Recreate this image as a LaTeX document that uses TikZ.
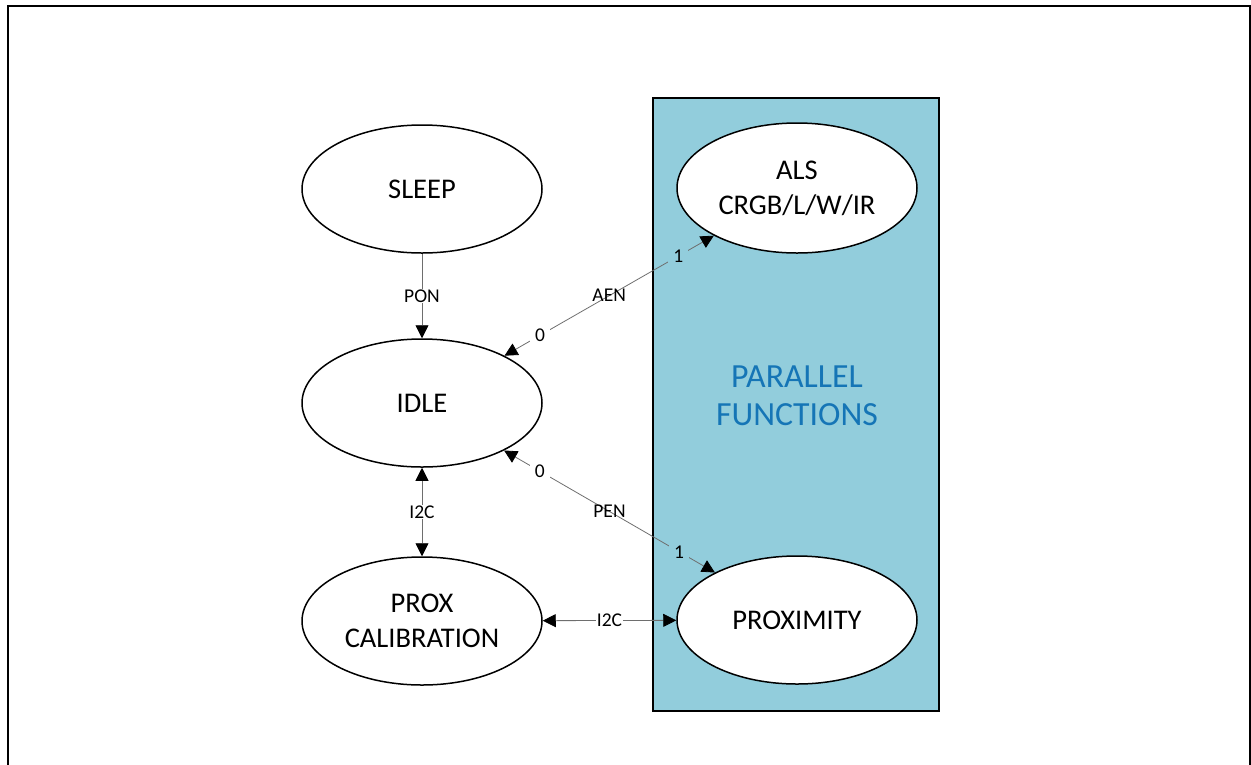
\documentclass[tikz,border=0pt]{standalone}
\usepackage{fontspec}
\setmainfont{Carlito}
\usepackage{xcolor}
\usepackage{tikz}
\usetikzlibrary{arrows.meta,shapes,shapes.geometric}
\usetikzlibrary{positioning, quotes}
\definecolor{parblue}{RGB}{146,205,220}
\definecolor{partext}{RGB}{21,117,182}
\definecolor{linegray}{RGB}{110,110,110}

\begin{document}
\begin{tikzpicture}[x=1pt,y=-1pt]
    \tikzstyle{state}=[draw, ellipse, line width=1.5pt, fill=white, minimum width=240pt, minimum height=128pt, inner sep=0pt, align=center, font=\fontsize{28.5}{35}\selectfont];
    \tikzstyle{conn}=[draw=linegray, line width=0.8pt, {Triangle[length=13pt,width=13pt,color=black]}-{Triangle[length=13pt,width=13pt,color=black]}];
    \tikzstyle{lbl}=[font=\fontsize{19.5}{23}\selectfont, inner sep=3pt, text=black];
    \useasboundingbox (0,0) rectangle (1251,764);
    \draw[line width=2pt] (8,6) rectangle (1249.5,780);
    \draw[line width=1.5pt, fill=parblue] (653,98) rectangle (939,711);
    \node[text=partext, align=center, font=\fontsize{33.8}{38.5}\selectfont] (par) at (797,396) {PARALLEL\\FUNCTIONS};
    \node[state] (sleep) at (422,189) {SLEEP};
    \node[state] (idle) at (422,403) {IDLE};
    \node[state] (cal) at (422,621) {PROX\\CALIBRATION};
    \node[state, minimum height=130pt] (als) at (797,188) {ALS\\CRGB/L/W/IR};
    \node[state] (prox) at (797,620) {PROXIMITY};
    \path[draw] [conn, -{Triangle[length=13pt,width=13pt,color=black]}] (sleep) -- node[lbl, fill=white, inner sep=1pt] {PON} (idle);
    \path[draw] [conn] (idle) -- node[lbl, fill=white, inner sep=1pt] {I2C} (cal);
    \path[draw] [conn] (cal) -- node[lbl, fill=white, inner sep=1pt] {I2C} (prox);
    \path[draw] [conn] (idle) -- node[lbl, pos=0.17, fill=white, inner sep=5pt] {0}
        node[lbl] {AEN}
        node[lbl, pos=0.83, fill=parblue, inner sep=5pt] {1} (als);
    \path[draw] [conn] (idle) -- node[lbl, pos=0.17, fill=white, inner sep=5pt] {0}
        node[lbl] {PEN}
        node[lbl, pos=0.83, fill=parblue, inner sep=5pt] {1} (prox);
\end{tikzpicture}
\end{document}
